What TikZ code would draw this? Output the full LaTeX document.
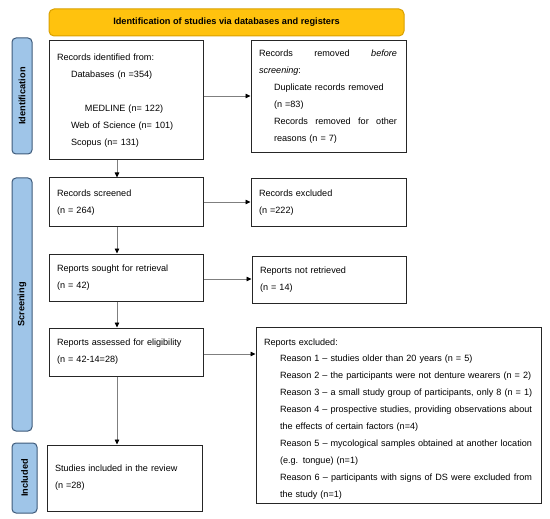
\documentclass[tikz,border=0pt]{standalone}
\usepackage{fontspec}
\setmainfont{Liberation Sans}
\usetikzlibrary{arrows.meta}
\definecolor{hdrfill}{HTML}{FFC20E}
\definecolor{hdrdraw}{HTML}{D9A000}
\definecolor{barfill}{HTML}{9FC5E8}
\definecolor{bardraw}{HTML}{3D5A7A}
\definecolor{boxdraw}{HTML}{262626}
\definecolor{arrgray}{HTML}{7F7F7F}
\newcommand{\jusline}[2]{\leavevmode\hbox to #1{\spaceskip=0.278em plus 1fil minus 0.08em\relax #2}}
\begin{document}
\begin{tikzpicture}[x=1pt,y=-1pt,
  txt/.style={font=\fontsize{9.1}{17}\selectfont},
  box/.style={draw=boxdraw, line width=1pt, fill=white, txt, align=left, inner xsep=8pt, inner ysep=2pt},
  bar/.style={draw=bardraw, fill=barfill, line width=1pt, rounded corners=4pt, rotate=90, font=\bfseries\fontsize{9.2}{11}\selectfont, inner sep=0pt},
  arr/.style={draw=arrgray, line width=0.8pt, -{Triangle[length=5pt,width=4.5pt,color=black]}}
]
\useasboundingbox (0,0) rectangle (550,519);

\node[draw=hdrdraw, fill=hdrfill, line width=1pt, rounded corners=5pt, minimum width=355pt, minimum height=27pt, inner sep=0pt, font=\bfseries\fontsize{9.2}{11}\selectfont] (hdr) at (226.5,22.5) {Identification of studies via databases and registers};

\node[bar, minimum width=116pt, minimum height=20pt] (lid) at (22,96) {Identification};
\node[bar, minimum width=253pt, minimum height=20pt] (lsc) at (22,304.5) {Screening};
\node[bar, minimum width=70pt, minimum height=25pt] (lin) at (24.5,478) {Included};

\node[box, minimum width=154pt, minimum height=119pt, text width=138pt] (b1) at (126,100.5) {Records identified from:\\
\hspace*{14pt}Databases (n =354)\\[17pt]
\hspace*{28pt}MEDLINE (n= 122)\\
\hspace*{14pt}Web of Science (n= 101)\\
\hspace*{14pt}Scopus (n= 131)};

\node[box, minimum width=155pt, minimum height=112pt, text width=139pt] (b2) at (328.5,97) {\jusline{138pt}{Records removed \textit{before}}\\
\textit{screening}:\\
\hspace*{15pt}Duplicate records removed\\
\hspace*{15pt}(n =83)\\
\hspace*{15pt}\jusline{123pt}{Records removed for other}\\
\hspace*{15pt}reasons (n = 7)};

\node[box, minimum width=154pt, minimum height=49pt, text width=138pt] (b3) at (126,202.5) {Records screened\\(n = 264)};
\node[box, minimum width=155pt, minimum height=48pt, text width=139pt] (b4) at (328.5,203) {Records excluded\\(n =222)};
\node[box, minimum width=154pt, minimum height=47pt, text width=138pt] (b5) at (126,277.5) {Reports sought for retrieval\\(n = 42)};
\node[box, minimum width=154pt, minimum height=47pt, text width=138pt] (b6) at (329,279.5) {Reports not retrieved\\(n = 14)};
\node[box, minimum width=154pt, minimum height=48pt, text width=138pt] (b7) at (126,352) {Reports assessed for eligibility\\(n = 42-14=28)};

\node[box, font=\fontsize{9.1}{16.9}\selectfont, minimum width=285pt, minimum height=176pt, text width=269pt] (b8) at (398.5,415) {\rule{0pt}{14pt}Reports excluded:\\
\hspace*{16pt}\mbox{Reason 1 -- studies older than 20 years (n = 5)}\\
\hspace*{16pt}\mbox{Reason 2 -- the participants were not denture wearers (n = 2)}\\
\hspace*{16pt}\mbox{Reason 3 -- a small study group of participants, only 8 (n = 1)}\\
\hspace*{16pt}\jusline{252pt}{Reason 4 -- prospective studies, providing observations about}\\
\hspace*{16pt}the effects of certain factors (n=4)\\
\hspace*{16pt}\jusline{252pt}{Reason 5 -- mycological samples obtained at another location}\\
\hspace*{16pt}(e.g. tongue) (n=1)\\
\hspace*{16pt}\jusline{252pt}{Reason 6 -- participants with signs of DS were excluded from}\\
\hspace*{16pt}the study (n=1)};

\node[box, minimum width=155pt, minimum height=66pt, text width=139pt] (b9) at (124.5,478) {Studies included in the review\\(n =28)};

\coordinate (vx) at (117,0);
\coordinate (h1) at (0,96);
\coordinate (h2) at (0,202);
\coordinate (h3) at (0,279);
\coordinate (h4) at (0,354);

\draw[arr] (b1.south -| vx) -- (b3.north -| vx);
\draw[arr] (b3.south -| vx) -- (b5.north -| vx);
\draw[arr] (b5.south -| vx) -- (b7.north -| vx);
\draw[arr] (b7.south -| vx) -- (b9.north -| vx);

\draw[arr] (b1.east |- h1) -- (b2.west |- h1);
\draw[arr] (b3.east |- h2) -- (b4.west |- h2);
\draw[arr] (b5.east |- h3) -- (b6.west |- h3);
\draw[arr] (b7.east |- h4) -- (b8.west |- h4);
\end{tikzpicture}
\end{document}
